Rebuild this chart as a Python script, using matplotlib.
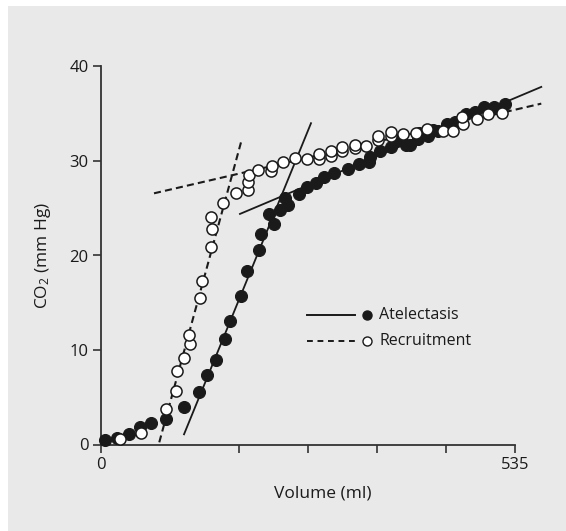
import matplotlib
matplotlib.use("Agg")
import matplotlib.pyplot as plt
from matplotlib.patches import Rectangle
from matplotlib.lines import Line2D

plt.rcParams['font.family'] = ['Open Sans', 'DejaVu Sans']
plt.rcParams['mathtext.fontset'] = 'custom'
plt.rcParams['mathtext.rm'] = 'Open Sans'
plt.rcParams['mathtext.it'] = 'Open Sans'

# Atelectasis (filled) — volume in ml, CO2 in mm Hg
atel_vol = [5, 20.7, 36.6, 50.0, 65.0, 84.0, 106.9, 127.0, 137.2, 148.6, 160.6,
            167.0, 181.3, 188.7, 204.6, 207.0, 217.5, 223.3, 231.7, 237.4, 241.1,
            255.9, 266.6, 277.6, 287.8, 301.7, 318.7, 333.2, 346.3, 347.6, 360.5,
            374.4, 385.5, 394.1, 399.3, 410.0, 411.3, 423.0, 428.6, 435.9, 446.7,
            457.1, 471.3, 483.3, 495.3, 507.9, 522.5]
atel_co2 = [0.47, 0.72, 1.13, 1.85, 2.30, 2.74, 3.96, 5.59, 7.39, 8.92, 11.13,
            13.12, 15.75, 18.31, 20.53, 22.32, 24.40, 23.38, 24.79, 26.04, 25.38,
            26.48, 27.21, 27.67, 28.34, 28.76, 29.18, 29.66, 29.92, 30.45, 31.01,
            31.43, 32.21, 31.68, 31.68, 32.32, 33.01, 32.63, 33.27, 33.19, 33.90,
            34.14, 34.95, 35.20, 35.73, 35.73, 36.01]

# Recruitment (open)
recr_vol = [24.6, 52.3, 84.0, 96.3, 97.6, 107.5, 115.0, 113.7, 128.3, 129.9, 142.2,
            143.1, 142.2, 158.3, 174.5, 190.4, 190.4, 191.0, 203.1, 220.1, 220.6,
            235.6, 250.4, 265.9, 281.3, 281.3, 297.2, 297.2, 312.1, 312.1, 328.0,
            328.0, 342.8, 358.4, 358.4, 374.4, 374.4, 390.7, 407.1, 420.9, 441.6,
            454.5, 468.2, 466.9, 485.5, 500.5, 517.8]
recr_co2 = [0.58, 1.25, 3.72, 5.70, 7.73, 9.13, 10.66, 11.63, 15.51, 17.34, 20.93,
            22.78, 24.12, 25.54, 26.59, 26.97, 27.74, 28.55, 29.10, 28.95, 29.52,
            29.89, 30.27, 30.21, 30.26, 30.77, 30.55, 31.03, 31.01, 31.45, 31.40,
            31.69, 31.56, 32.21, 32.66, 32.66, 33.09, 32.88, 33.01, 33.37, 33.19,
            33.19, 33.90, 34.67, 34.46, 35.02, 35.06]

# Straight-line fits (end points)
atel_steep_vol = [107.3, 271.4]
atel_steep_co2 = [1.08, 34.0]
atel_flat_vol = [179.6, 569.0]
atel_flat_co2 = [24.4, 37.84]
recr_steep_vol = [75.3, 181.8]
recr_steep_co2 = [0.23, 32.24]
recr_flat_vol = [68.5, 569.0]
recr_flat_co2 = [26.58, 36.07]

x_ticks = [0, 535 * 2 / 6, 535 * 3 / 6, 535 * 4 / 6, 535 * 5 / 6, 535]
x_ticklabels = ['0', '', '', '', '', '535']
y_ticks = [0, 10, 20, 30, 40]
series_labels = ['Atelectasis', 'Recruitment']

W, H = 566, 531
fig = plt.figure(figsize=(W / 100, H / 100), dpi=100, facecolor='white')
bg = '#e8e9e8'
panel = fig.add_axes([0, 0, 1, 1], zorder=-5)
panel.set_axis_off()
panel.set_xlim(0, 1)
panel.set_ylim(0, 1)
panel.add_patch(Rectangle((8 / W, 0), 1 - 8 / W, (H - 6) / H,
                          facecolor=bg, edgecolor='none'))

ax = fig.add_axes([101 / W, (H - 444.5) / H, 442.6 / W, 378 / H])
ax.set_facecolor('none')
ax.set_xlim(0, 572)
ax.set_ylim(0, 40)

ink = '#1a1a1a'
dash = (0, (3.4, 2.0))
ax.plot(atel_steep_vol, atel_steep_co2, color=ink, lw=1.3, zorder=2)
ax.plot(atel_flat_vol, atel_flat_co2, color=ink, lw=1.3, zorder=2, clip_on=False)
ax.plot(recr_steep_vol, recr_steep_co2, color=ink, lw=1.5, ls=dash, zorder=2)
ax.plot(recr_flat_vol, recr_flat_co2, color=ink, lw=1.5, ls=dash, zorder=2, clip_on=False)

ax.plot(atel_vol, atel_co2, ls='none', marker='o', ms=8.6, mfc=ink, mec=ink,
        mew=0.8, zorder=3, clip_on=False)
ax.plot(recr_vol, recr_co2, ls='none', marker='o', ms=8.0, mfc='white', mec=ink,
        mew=1.1, zorder=4, clip_on=False)

for s in ['top', 'right']:
    ax.spines[s].set_visible(False)
for s in ['left', 'bottom']:
    ax.spines[s].set_color('#333333')
    ax.spines[s].set_linewidth(1.3)
ax.spines['bottom'].set_bounds(0, 535)
ax.spines['left'].set_bounds(0, 40)

ax.set_xticks(x_ticks)
ax.set_xticklabels(x_ticklabels)
ax.set_yticks(y_ticks)
ax.tick_params(direction='out', length=6, width=1.2, color='#333333',
               labelsize=12, labelcolor='#1a1a1a', pad=3)
ax.set_xlabel('Volume (ml)', fontsize=12.5, color='#1a1a1a', labelpad=9)
ax.set_ylabel('CO$_2$ (mm Hg)', fontsize=12.5, color='#1a1a1a', labelpad=12)

# Key
lx0, lx1, mx, tx = 0.4648, 0.5745, 0.6003, 0.6288
for yk, style, face, lab in [(0.3426, '-', ink, series_labels[0]),
                             (0.2738, (0, (3.0, 2.4)), 'white', series_labels[1])]:
    ax.add_line(Line2D([lx0, lx1], [yk, yk], transform=ax.transAxes,
                       color=ink, lw=1.4, ls=style))
    ax.add_line(Line2D([mx], [yk], transform=ax.transAxes, ls='none',
                       marker='o', ms=6.5, mfc=face, mec=ink, mew=1.0))
    ax.text(tx, yk, lab, transform=ax.transAxes, fontsize=11.5,
            va='center', ha='left', color='#1a1a1a')

fig.savefig('out.png', dpi=100, facecolor='white')
